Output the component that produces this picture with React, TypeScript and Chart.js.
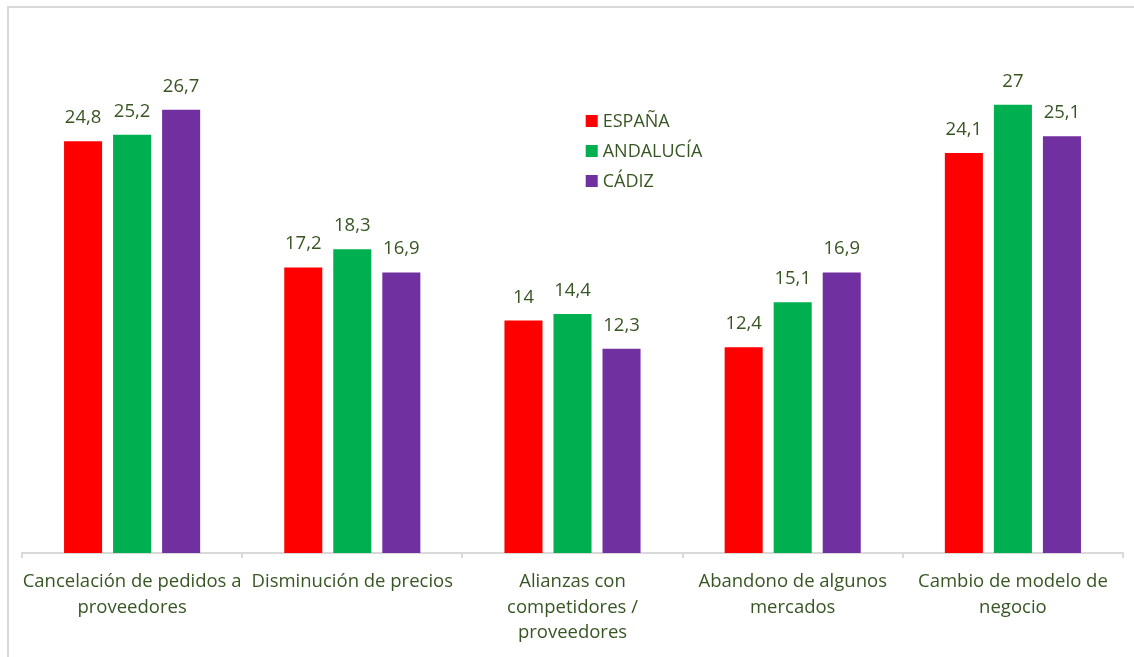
import React, { useEffect, useRef } from "react";
import { Chart, registerables } from "chart.js";

Chart.register(...registerables);

const categories: string[][] = [
  ["Cancelación de pedidos a", "proveedores"],
  ["Disminución de precios"],
  ["Alianzas con", "competidores /", "proveedores"],
  ["Abandono de algunos", "mercados"],
  ["Cambio de modelo de", "negocio"],
];
const espana = [24.8, 17.2, 14, 12.4, 24.1];
const andalucia = [25.2, 18.3, 14.4, 15.1, 27];
const cadiz = [26.7, 16.9, 12.3, 16.9, 25.1];
const seriesNames = ["ESPAÑA", "ANDALUCÍA", "CÁDIZ"];
const seriesColors = ["#FF0000", "#00B050", "#7030A0"];

const TEXT = "#375623";
const FONT = "'Open Sans', sans-serif";
const FS = 18.5;

const fmt = (v: number) => String(v).replace(".", ",");

const valueLabels = {
  id: "valueLabels",
  afterDatasetsDraw(chart: any) {
    const ctx = chart.ctx;
    ctx.save();
    ctx.fillStyle = TEXT;
    ctx.font = `${FS}px ${FONT}`;
    ctx.textAlign = "center";
    ctx.textBaseline = "alphabetic";
    chart.data.datasets.forEach((ds: any, i: number) => {
      const meta = chart.getDatasetMeta(i);
      meta.data.forEach((bar: any, j: number) => {
        ctx.fillText(fmt(ds.data[j]), bar.x, bar.y - 18);
      });
    });
    ctx.restore();
  },
};

const innerLegend = {
  id: "innerLegend",
  afterDraw(chart: any) {
    const ctx = chart.ctx;
    const area = chart.chartArea;
    const x0 = area.left + (area.right - area.left) * 0.512;
    ctx.save();
    ctx.font = `${FS - 0.5}px ${FONT}`;
    ctx.textBaseline = "middle";
    ctx.textAlign = "left";
    chart.data.datasets.forEach((ds: any, i: number) => {
      const y = 121 + i * 30;
      ctx.fillStyle = ds.backgroundColor;
      ctx.fillRect(x0, y - 6, 12, 12);
      ctx.fillStyle = TEXT;
      ctx.fillText(ds.label, x0 + 17, y + 1);
    });
    ctx.restore();
  },
};

export default function App() {
  const ref = useRef<HTMLCanvasElement>(null);
  useEffect(() => {
    if (!ref.current) return;
    const chart = new Chart(ref.current, {
      type: "bar",
      data: {
        labels: categories,
        datasets: [espana, andalucia, cadiz].map((d, i) => ({
          label: seriesNames[i],
          data: d,
          backgroundColor: seriesColors[i],
          categoryPercentage: 0.668,
          barPercentage: 0.776,
        })),
      },
      options: {
        responsive: false,
        animation: false,
        layout: { padding: { left: 22, right: 11, top: 55, bottom: 0 } },
        plugins: {
          legend: { display: false },
          tooltip: { enabled: false },
        },
        scales: {
          x: {
            grid: {
              display: true,
              drawOnChartArea: false,
              drawTicks: true,
              tickLength: 5,
              offset: true,
              color: "#D9D9D9",
              lineWidth: 2,
            },
            border: { display: true, color: "#D9D9D9", width: 2 },
            ticks: {
              color: TEXT,
              font: { family: FONT, size: FS, lineHeight: 25.67 / FS },
              padding: 11,
              maxRotation: 0,
              autoSkip: false,
            },
          },
          y: {
            display: false,
            min: 0,
            max: 30,
          },
        },
      },
      plugins: [valueLabels, innerLegend],
    });
    return () => chart.destroy();
  }, []);

  return (
    <div
      style={{
        position: "fixed",
        left: 0,
        top: 0,
        width: 1134,
        height: 657,
        overflow: "hidden",
        background: "#fff",
      }}
    >
      <div
        style={{
          position: "absolute",
          left: 7,
          top: 6,
          width: 1200,
          height: 700,
          border: "2px solid #D9D9D9",
          boxSizing: "border-box",
        }}
      />
      <canvas
        ref={ref}
        width={1134}
        height={657}
        style={{ position: "absolute", left: 0, top: 0, display: "block" }}
      />
    </div>
  );
}
